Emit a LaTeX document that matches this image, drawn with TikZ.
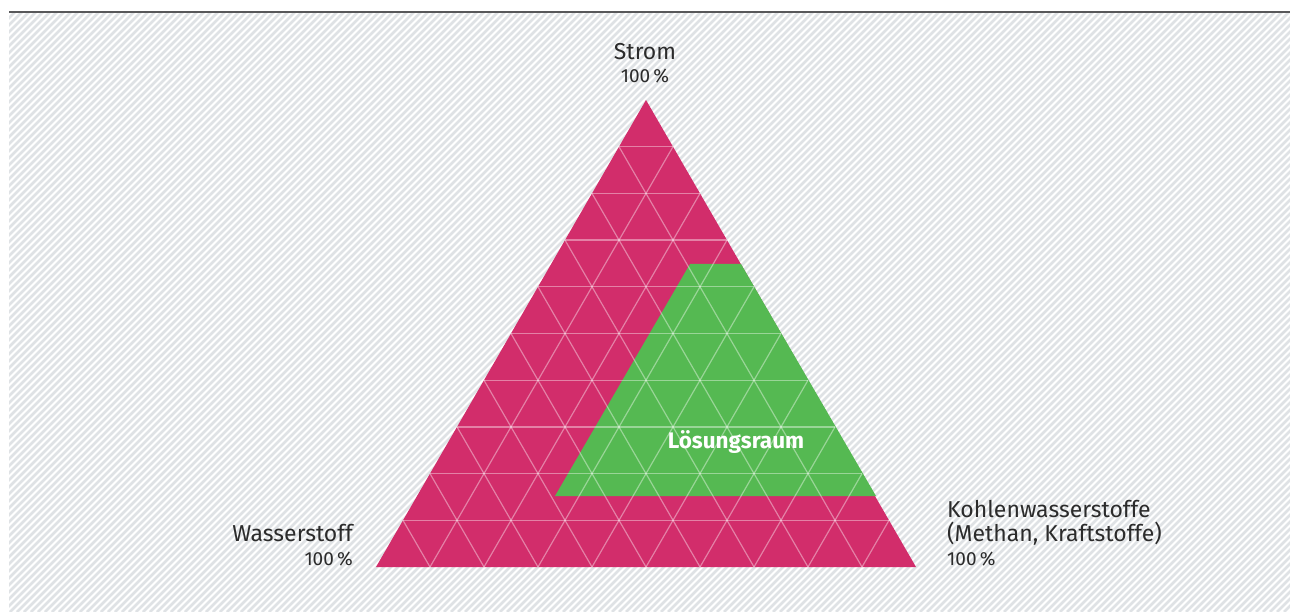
\documentclass[tikz,border=0pt]{standalone}
\usepackage{fontspec}
\setmainfont{Fira Sans}
\usetikzlibrary{calc}
\definecolor{magentaT}{RGB}{210,45,107}
\definecolor{greenT}{RGB}{85,185,82}
\definecolor{hatchgray}{RGB}{223,226,229}
\definecolor{rulegray}{RGB}{88,88,90}
\definecolor{labeltext}{RGB}{43,43,43}
\tikzset{
  gridline/.style={draw=white, draw opacity=0.4, line width=1.2pt},
  label/.style={inner sep=0pt, text=labeltext, font=\fontsize{23}{27}\selectfont},
  percent/.style={inner sep=0pt, text=labeltext, font=\fontsize{19}{22}\selectfont},
}
\begin{document}
\begin{tikzpicture}[x=1pt,y=-1pt]
\useasboundingbox (0,0) rectangle (1290,612);
% hatched backdrop
\begin{scope}
  \clip (9,12) rectangle (1290,612);
  \foreach \i in {-620,-613,...,1290}
    \draw[hatchgray, line width=2.6pt] (\i,612) -- (\i+612,0);
\end{scope}
\draw[rulegray, line width=2pt] (9,12) -- (1290,12);

% triangle corners
\coordinate (A) at (646,100);
\coordinate (B) at (376,567);
\coordinate (C) at (916,567);
\fill[magentaT] (A) -- (B) -- (C) -- cycle;

% solution region
\coordinate (G1) at (690,264);
\coordinate (G2) at (741,264);
\coordinate (G3) at (876,496);
\coordinate (G4) at (555,496);
\fill[greenT] (G1) -- (G2) -- (G3) -- (G4) -- cycle;

% ternary grid
\foreach \i in {1,...,9}{
  \draw[gridline] ($(A)!\i/10!(B)$) -- ($(A)!\i/10!(C)$);
  \draw[gridline] ($(B)!\i/10!(A)$) -- ($(B)!\i/10!(C)$);
  \draw[gridline] ($(C)!\i/10!(A)$) -- ($(C)!\i/10!(B)$);
}

\node[inner sep=0pt, text=white, font=\fontsize{22.5}{26}\selectfont\bfseries] (loes) at (736,442) {Lösungsraum};

% corner labels
\node[label, anchor=base] (strom) at (645,60) {Strom};
\node[percent, anchor=base] (stromp) at (645,83) {100\,\%};
\node[label, anchor=base east] (wasser) at (353,541) {Wasserstoff};
\node[percent, anchor=base east] (wasserp) at (353,565) {100\,\%};
\node[label, anchor=base west] (kohle) at (947,517) {Kohlenwasserstoffe};
\node[label, anchor=base west] (kohle2) at (947,541) {(Methan, Kraftstoffe)};
\node[percent, anchor=base west] (kohlep) at (947,565) {100\,\%};
\end{tikzpicture}
\end{document}
